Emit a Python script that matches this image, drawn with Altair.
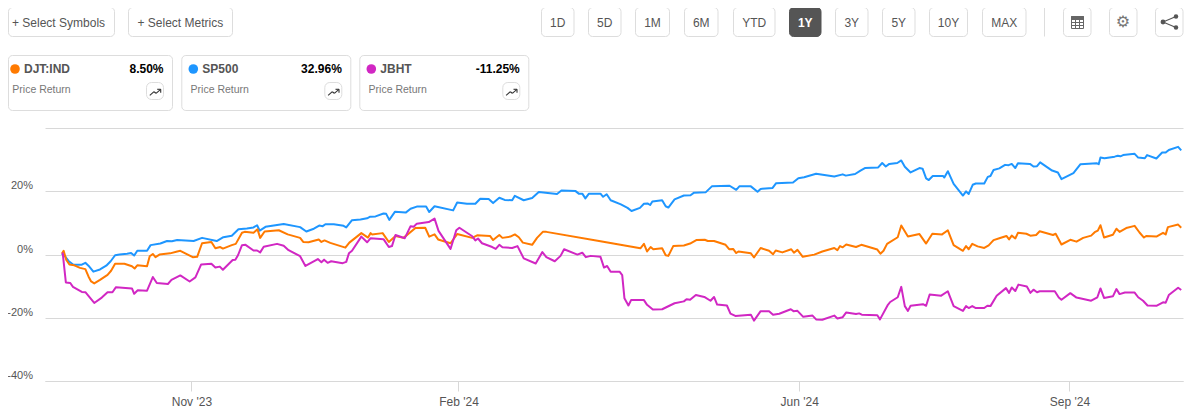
import altair as alt
import pandas as pd

# (trading session since start, price return %)
SP500 = [(0,0.3),(0.75,-0.6),(1.5,-2),(2.6,-3.2),(4.5,-3.2),(5.3,-2.6),(6,-3.5),(7.1,-5.4),(8.6,-4.7),(10,-3.5),(11,-2.1),(12,-0.2),(13,0),(14.7,0.3),(15.6,0.5),(16.3,-0.3),(17,1.2),(19.2,1.2),(20,3),(22.2,3.5),(23.7,4.3),(24.8,4.2),(26,4.6),(29.7,4.3),(31.6,5.3),(34.9,4.3),(36.4,5.5),(38.3,6),(39.8,8),(41.7,8.3),(43.2,8.6),(44,9.3),(44.6,7.6),(45.9,8.8),(50,9.7),(53.7,8.7),
(55.1,7.3),(56.8,8.2),(58,9.2),(58.8,9),(59.4,9.6),(61.3,9.6),(63.5,9.1),(64.1,8.6),(65.4,10.9),(67.3,11.1),(68.8,11.5),(69.5,12),(70.7,12.1),(72.5,13),(73.1,12.9),(73.8,11),(75.1,13.6),(77.5,13.3),(78.6,14.5),(80,15.2),(82.1,15.2),(82.8,13.5),(84,15.3),(88.2,14),(89.1,16.5),(91.3,16.1),(93.2,16.1),(94.3,17.7),(96.2,17.6),(97.2,16.3),(98.6,18),(99.8,17.3),(101.5,17.2),(102.1,18.6),(104.1,17.2),(106,17.9),(107.5,19.8),(111.6,19.2),(112.6,20.3),(115.8,20.1),(116.5,19.3),(117.3,19.3),(118,17.8),(118.8,19.3),(121.4,19.3),
(122,18.3),(122.8,19.1),(123.7,17.2),(126,15.9),(127.5,14.8),(128.4,13.8),(130.3,14.8),(131.2,16.1),(132,16.2),(132.6,15.7),(133.1,16.8),(135.3,17.2),(136.1,15.3),(136.7,14.9),(138.1,17.5),(140.2,18.7),(141.7,18.8),(142.5,19.6),(145.1,19.7),(146.5,21.6),(150.5,21.8),(152,20.5),(152.7,21.6),(155.3,21.6),(156.8,19.9),(157.5,20.8),(160.2,21.1),(161,22.6),(164.8,22.8),(166,24.2),(167.3,24.5),(170,25.6),(174.1,24.7),(176,25.4),(176.7,25),
(178.8,25.5),(180,26.6),(181,27.4),(184,27.6),(184.9,29),(185.7,27.9),(186.5,28.7),(188.3,29),(189.2,29.8),(190,27.8),(191.3,26),(193.3,27.4),(194,27.2),(194.8,24.1),(195.4,23.6),(196.3,24.9),(198.6,24.9),(198.9,24.4),(199.7,26.4),(201,22.4),(203.1,18.7),(203.8,20),(204.4,19.2),(205.3,22.1),(206,22.5),(207.9,22.5),(208.7,24.6),(209.3,24.9),(210,26.8),(211.3,27.3),(212.6,28.4),(213.4,28.3),(214.1,28.7),(214.9,27.4),(215.5,28.9),(218.2,28.7),(219,27.9),(219.8,28),(220.5,29.2),(223.2,26.6),(224.5,26),(225.3,23.9),(228,25.8),(229.6,28.6),(233.3,28.9),(233.7,28.6),(234.1,30.7),(235,30.5),(237.3,31),(238,31.3),(238.6,31.1),(239.2,31.5),(241.8,31.9),(242.6,30.7),(244.1,30.5),(244.6,31.5),(246.7,30.4),(248,32.3),(248.8,32.3),(249.5,33.1),(251.6,34.1),(252.3,33)]

DJT = [(0,0.3),(0.4,1.2),(1,-1.7),(1.7,-3.1),(2.8,-3.4),(4.1,-4.2),(5.3,-4.6),(6,-6.9),(6.6,-8.5),(7.3,-9.1),(8.6,-8),(10.3,-6.4),(11.1,-5.1),(12,-2.9),(14.1,-2.9),(15.8,-3.7),(16.4,-4.4),(17,-3.4),(19.2,-3.7),(19.8,-0.5),(20.5,0.2),(21.1,-0.8),(22,0),(24.4,0.4),(26,1),(26.7,1.2),(29.5,-0.8),(30.5,-0.7),(31.6,3.6),(33.7,4),(34.6,2),(35.7,2.4),(36.3,1.9),(38.3,3),(39.2,3.4),(40.6,6.9),(41.2,7.2),(43.2,6.9),(44.1,8),(44.7,5.3),(45.7,7.3),(48.9,7.7),(50.9,6.4),(53.7,5.3),
(54.4,4),(55.6,3.9),(57.9,4.8),(58.5,4),(59.2,4.5),(60.5,3.7),(63.9,2.2),(64.8,3.8),(67.5,6.8),(69,5.4),(69.6,6.8),(69.9,6.4),(72.3,6.8),(73.7,4),(75.2,5.9),(77,5.3),(79.7,8.4),(81.9,8.5),(82.8,5.7),(84,6.4),(84.8,4.8),(87.6,3.6),(89.1,6.5),(92.5,5.3),(93.6,6.1),(96.5,5.9),(97.2,4.6),(98.6,6.2),(99.3,5.3),(101.1,5.7),(102.1,6.4),(103,5.5),(103.9,3.8),(106,3.1),(107.1,5.3),(108.4,7.2),(109.2,7.2),(121.4,4.2),
(130.4,2),(131.2,3.4),(131.9,1),(132.7,2.4),(133.3,1.7),(135.3,2),(136.1,-0.2),(136.7,-0.4),(137.8,2.7),(140.2,2.9),(141.6,3.5),(143,4.6),(144.9,4.7),(145.6,4.3),(147,4.3),(149.6,3.1),(150.4,1.7),(151.3,1.8),(152,0.5),(152.5,1),(155.3,0.4),(156,-0.9),(157.5,2.1),(159.4,1.2),(160.3,0.1),(160.9,1.3),(162.4,0.7),(164.4,1.7),(165,0.6),(165.8,1.5),(167,-0.7),(169.6,0),(171.4,1),(174.1,2.1),(174.8,1.4),(175.4,2.7),(176,2.3),(176.8,3.2),(179,2.4),(180.2,3.1),(183.8,1.6),(184.5,0.3),(185.2,1.2),(186,3.4),(188.4,5.5),
(189.2,9.2),(190.7,5.7),(193.3,6.5),(194.8,3.5),(196.2,6.6),(198.4,6.4),(199.7,7.7),(201,3),(203.1,1.2),(203.8,2.7),(204.4,1.7),(205.2,3.4),(206.4,2.6),(207.9,2.1),(208.9,2.9),(210,4.6),(211.3,5.2),(212.9,5.9),(213.5,4.8),(214.1,6),(214.9,5.1),(215.5,6.9),(217.4,6.6),(218.3,6),(219.6,6.2),(220.4,7.4),(223.4,6.2),(224,6.6),(225.3,3.2),(227.3,4.7),(228.7,4.1),(230.2,5.3),(232,6),(232.8,7.1),(233.5,7.6),(234.1,9.3),(234.9,5.4),(236.9,6.3),(237.7,8.2),(238.4,7.2),(239.9,8.4),(241.8,9.1),(242.9,7),(243.9,5.4),(244.4,5.9),(246.7,5.7),(248.2,6.9),(248.8,6.4),(249.3,8.7),(251.6,9.5),(252.3,8.5)]

JBHT = [(0,0.3),(0.2,0.4),(0.9,-8.8),(1.9,-9),(2.5,-10.2),(4.5,-11.8),(5.3,-11.9),(7.3,-15.3),(9,-13.6),(10.3,-11.9),(11.4,-11.9),(12.2,-10.3),(15.8,-10.7),(16.3,-12.4),(17.1,-11.3),(19.2,-11.4),(20.5,-7.1),(21.4,-9),(23.9,-9.3),(24.7,-8),(26.7,-6.6),(28.8,-8.5),(30.1,-7.2),(31.4,-3.1),(33.7,-2.9),(34.6,-4.1),(35.6,-3.8),(36.3,-4.8),(38.5,-1.7),(39.1,-1.6),(39.7,-0.2),(40.6,3),(41.4,3.1),(43.2,1.3),(44,1.3),(44.7,0.7),(45.5,2.5),(48.5,3.4),(50,2.8),(51.1,1.4),(53.7,-0.5),
(54.9,-3.6),(57.7,-1.4),(58.5,-2.4),(59.1,-1.6),(59.9,-2.6),(60.7,-2.1),(63.3,-2.7),(64.1,-2.3),(64.7,0.4),(65.4,1.2),(67.5,5.7),(68.8,3.9),(69.6,5.2),(72.5,4.9),(73.7,2.4),(74.4,2.7),(75.2,6.2),(77.3,5.2),(78.6,9),(79.3,8.8),(80,9.8),(82.7,10.3),(84,11.4),(84.9,7.5),(87.6,1.8),(88.9,7.7),(89.6,8.5),(92.5,5.8),(93.2,4.5),(93.8,5.1),(94.7,3.6),(97,2.4),(97.8,1.8),(98.6,3.1),(99.3,2.3),(101.5,2.1),(102.7,2.7),(104.1,-1.2),(106.8,-2.8),(108.3,0.8),(109.2,-0.8),(111.1,-2.1),(112.4,-0.4),(113.2,1.7),(116.2,0),(117.3,0.6),(118.1,-0.8),(119.2,-0.4),(121.4,-0.7),
(122.2,-4.1),(122.9,-3.6),(123.7,-5.4),(125.7,-5.4),(126.3,-6.5),(126.8,-13.8),(127.7,-16.1),(128.3,-14.4),(131.2,-14.4),(131.9,-15.9),(133.2,-17.4),(135.3,-17.3),(138.1,-15.4),(140.2,-14.8),(140.8,-14.1),(141.6,-14.3),(142.9,-12.8),(144.8,-13.4),(146.2,-14.6),(147,-13.4),(147.7,-15.8),(149.9,-16.1),(150.7,-18.7),(151.8,-19.4),(155.3,-19),(156,-20.9),(157.5,-17.9),(159.4,-17.9),(160.3,-19),(161.7,-18.7),(164.3,-17.3),(164.9,-17.9),(165.8,-17.8),(167.1,-19.7),(169.2,-19.3),(170,-20.5),(171.4,-20.6),(174.1,-19.3),(174.8,-20.2),(176,-19.8),(176.8,-18.3),(179,-18.8),(179.7,-18.6),(180.3,-19),(183.8,-19.2),(184.4,-20.5),(186.1,-16.1),(186.7,-15),(188.4,-13.5),
(189.2,-10.2),(190,-16.3),(190.7,-17.8),(191.3,-16.2),(194.1,-15.7),(194.8,-16.2),(195.6,-12.6),(198.2,-13),(199.7,-11.6),(201,-16.3),(203.1,-17.8),(203.8,-16.3),(204.4,-16.9),(205.2,-16.3),(206,-16.9),(207.9,-16.9),(208.6,-16.2),(209.3,-16.3),(210.7,-13),(212.8,-10.6),(213.5,-12.1),(214.1,-10.4),(214.9,-11.5),(215.6,-9.5),(217.5,-10.1),(218.3,-12.1),(219,-11.1),(219.8,-11.9),(220.4,-11.6),(223.8,-11.6),(224.7,-13.6),(225.3,-14.3),(227.3,-12.2),(228.7,-13.6),(232,-14.6),(233.4,-13.5),(234.1,-10.7),(234.9,-13.7),(236.9,-13.2),(237.7,-10.9),(238.4,-12.5),(239.6,-12),(241.8,-12),(242.6,-13.5),(243.7,-14.6),(244.7,-16.1),(246.7,-16.2),(248.2,-15.1),(248.8,-15.2),(249.5,-12.8),(251.6,-10.5),(252.3,-11.2)]

SERIES_NAMES = ["SP500", "DJT:IND", "JBHT"]
SERIES_COLORS = ["#1E96FF", "#FF7A00", "#D127C3"]
SERIES_RETURNS = ["32.96%", "8.50%", "-11.25%"]
TICK_SESSIONS = [29.2, 89.4, 166.2, 227.1]
TICK_LABELS = ["Nov '23", "Feb '24", "Jun '24", "Sep '24"]
Y_TICKS = [-40, -20, 0, 20, 40]
RANGE_BUTTONS = ["1D", "5D", "1M", "6M", "YTD", "1Y", "3Y", "5Y", "10Y", "MAX"]

L, T = 45, 128   # page position of the plot area's corner
FONT = "Liberation Sans"
TXT = "#555555"
EDGE = "#DDDDDD"
base = alt.Chart(pd.DataFrame({"k": [0]}))


def box(x0, x1, y0, y1, fill="#FFFFFF", stroke=EDGE, r=4):
    return base.mark_rect(fill=fill, stroke=stroke, strokeWidth=1, cornerRadius=r).encode(
        x=alt.value(x0 - L), x2=alt.value(x1 - L), y=alt.value(y0 - T), y2=alt.value(y1 - T))


def label(s, x, y, size=12, color=TXT, align="left", weight="normal", font=FONT):
    return base.mark_text(text=s, fontSize=size, color=color, align=align, baseline="middle",
                          fontWeight=weight, font=font).encode(x=alt.value(x - L), y=alt.value(y - T))


def seg(x0, y0, x1, y1, color="#444444", w=1.2):
    return base.mark_rule(color=color, strokeWidth=w).encode(
        x=alt.value(x0 - L), x2=alt.value(x1 - L), y=alt.value(y0 - T), y2=alt.value(y1 - T))


def dot(x, y, color, size):
    return base.mark_circle(color=color, opacity=1, size=size).encode(
        x=alt.value(x - L), y=alt.value(y - T))


chrome = []
# top-left buttons (the page margin hides anything left of x = 8)
chrome += [box(8.5, 114.5, 7.5, 36.5), label("+ Select Symbols", 12, 22.5),
           box(128.5, 232.5, 7.5, 36.5), label("+ Select Metrics", 137.5, 22.5)]
# range buttons
edges = [(541.5, 574), (588.5, 621), (635.5, 669.5), (684.5, 718), (733.5, 775), (789.5, 821),
         (835.5, 868), (882.5, 915), (929.5, 967.5), (982.5, 1026)]
for name, (a, b) in zip(RANGE_BUTTONS, edges):
    on = name == "1Y"
    chrome.append(box(a, b, 7.5, 36.5, fill="#555555" if on else "#FFFFFF", stroke="#555555" if on else EDGE))
    chrome.append(label(name, (a + b) / 2, 22.5, color="#FFFFFF" if on else TXT, align="center",
                        weight="bold" if on else "normal"))
chrome.append(seg(1044.5, 7.5, 1044.5, 36.5, color=EDGE, w=1))
# table, gear and share buttons
chrome += [box(1063.5, 1091, 7.5, 36.5), box(1109.5, 1137, 7.5, 36.5), box(1155.5, 1183, 7.5, 36.5)]
chrome += [box(1071.5, 1083.5, 16.5, 28.5, stroke="#666666", r=0),
           box(1071.5, 1083.5, 16.5, 19.5, fill="#666666", stroke="#666666", r=0),
           seg(1075.5, 19.5, 1075.5, 28.5, "#666666", 1), seg(1079.5, 19.5, 1079.5, 28.5, "#666666", 1),
           seg(1071.5, 22.5, 1083.5, 22.5, "#666666", 1), seg(1071.5, 25.5, 1083.5, 25.5, "#666666", 1)]
chrome.append(label("\u2699", 1123, 22, size=16, color="#777777", align="center", font="DejaVu Sans"))
chrome += [seg(1163, 22, 1176, 16.5, "#555555", 1.2), seg(1163, 22, 1176, 27.5, "#555555", 1.2),
           dot(1163, 22, "#555555", 24), dot(1176, 16.5, "#555555", 20), dot(1176, 27.5, "#555555", 20)]

# legend cards: DJT, SP500, JBHT
for i, offs in zip([1, 0, 2], [0, 178.3, 356.3]):
    left = 8.5 if offs == 0 else 3.5 + offs
    chrome.append(box(left, 172.5 + offs, 55.5, 110.5))
    chrome.append(dot(15 + offs, 69, SERIES_COLORS[i], 92))
    chrome.append(label(SERIES_NAMES[i], 24 + offs, 69, color=TXT, weight="bold"))
    chrome.append(label(SERIES_RETURNS[i], 163.5 + offs, 69, color="#000000", align="right", weight="bold"))
    chrome.append(label("Price Return", 12.3 + offs, 90, size=10.5, color="#777777"))
    chrome.append(box(146.5 + offs, 163.5 + offs, 82.5, 99.5, r=5))
    for a, b, c, d in [(149.8, 95.3, 154, 91.7), (154, 91.7, 156, 93.3), (156, 93.3, 160.7, 89.3),
                       (157.2, 89.3, 160.7, 89.3), (160.7, 89.3, 160.7, 92.8)]:
        chrome.append(seg(a + offs, b, c + offs, d, "#333333", 1.1))

rows = []
for name, pts in zip(SERIES_NAMES, [SP500, DJT, JBHT]):
    for s, v in pts:
        rows.append({"series": name, "session": s, "ret": v})
df = pd.DataFrame(rows)

label_expr = " : ".join(
    f"datum.value == {s} ? \"{t}\"" for s, t in zip(TICK_SESSIONS, TICK_LABELS)) + ' : ""'

lines = alt.Chart(df).mark_line(strokeWidth=2, interpolate="linear", strokeJoin="round").encode(
    x=alt.X("session:Q", scale=alt.Scale(domain=[-3.8, 252.7], nice=False, zero=False),
            axis=alt.Axis(values=TICK_SESSIONS, labelExpr=label_expr, title=None, grid=False,
                          domainColor="#D8D8D8", tickColor="#D8D8D8", tickSize=10, labelColor=TXT,
                          labelFont=FONT, labelFontSize=12, labelPadding=5, labelOverlap=False)),
    y=alt.Y("ret:Q", scale=alt.Scale(domain=[-40, 40.07], nice=False),
            axis=alt.Axis(values=Y_TICKS, labelExpr="datum.value == 40 ? '' : datum.value + '%'", title=None,
                          domain=False, ticks=False, grid=True, gridColor="#D8D8D8", labelColor=TXT,
                          labelFont=FONT, labelFontSize=11, labelPadding=12.5, labelOffset=-5.5,
                          labelBaseline="middle", labelOverlap=False, labelBound=False)),
    color=alt.Color("series:N", scale=alt.Scale(domain=SERIES_NAMES, range=SERIES_COLORS), legend=None),
    order=alt.Order("session:Q"),
    detail="series:N",
)
# draw order: blue, orange, then magenta on top
layers = [lines.transform_filter(alt.datum.series == n) for n in SERIES_NAMES]

chart = alt.layer(*layers, *chrome).properties(
    width=1138, height=253,
    padding={"left": 37, "top": 120, "right": 6, "bottom": 29},
    autosize=alt.AutoSizeParams(type="none"),
).configure_view(stroke=None)

chart.save("out.html", embed_options={"renderer": "svg", "actions": False})
